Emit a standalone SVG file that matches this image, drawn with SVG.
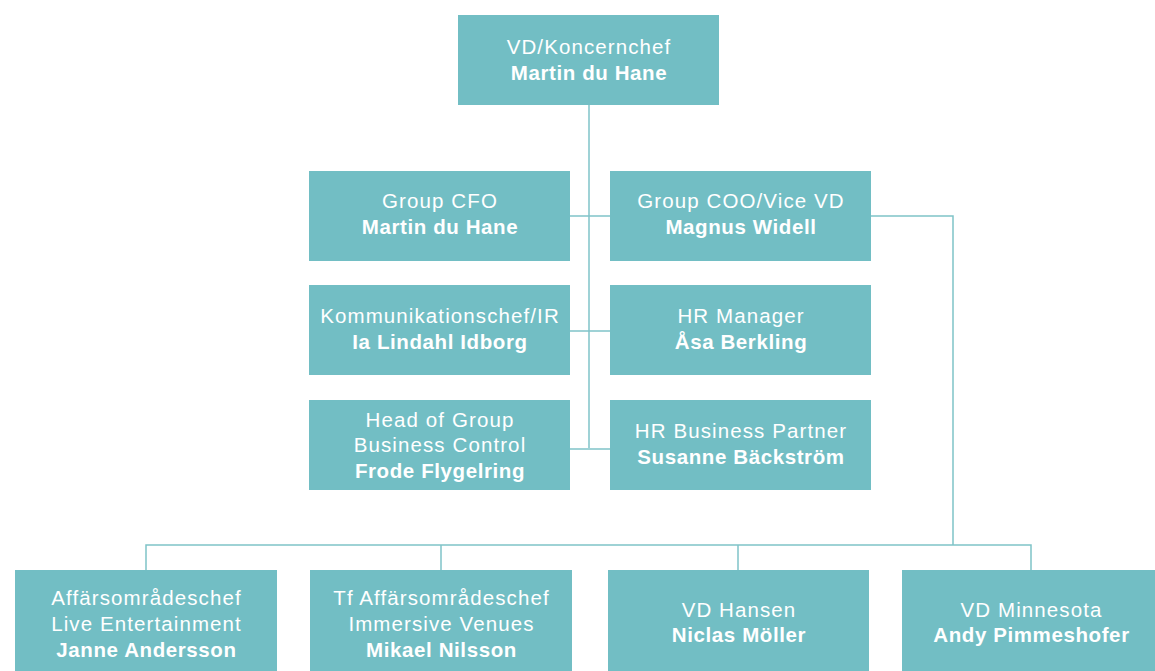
<svg xmlns="http://www.w3.org/2000/svg" width="1155" height="671" viewBox="0 0 1155 671">
<style>
.box{fill:#72bec4}
.t{font-family:"Liberation Sans",Arial,sans-serif;font-size:20.5px;fill:#ffffff;text-anchor:middle;letter-spacing:1.1px}
.b{font-weight:bold;letter-spacing:0.6px}
.c{stroke:#7fc3c8;stroke-width:1.5;fill:none}
</style>
<rect width="1155" height="671" fill="#ffffff"/>
<g id="connectors">
<path class="c" d="M589 105V448"/>
<path class="c" d="M570 216H610"/>
<path class="c" d="M570 331H610"/>
<path class="c" d="M570 449H610"/>
<path class="c" d="M871 216H953V545"/>
<path class="c" d="M146 570V545H1031V570"/>
<path class="c" d="M441 545V570"/>
<path class="c" d="M738 545V570"/>
</g>
<g id="ceo"><rect class="box" x="458" y="15" width="261" height="90"/>
<text class="t" x="589" y="54">VD/Koncernchef</text><text class="t b" x="589" y="80">Martin du Hane</text></g>
<g id="cfo"><rect class="box" x="309" y="171" width="261" height="90"/>
<text class="t" x="440" y="208">Group CFO</text><text class="t b" x="440" y="234">Martin du Hane</text></g>
<g id="coo"><rect class="box" x="610" y="171" width="261" height="90"/>
<text class="t" x="741" y="208">Group COO/Vice VD</text><text class="t b" x="741" y="234">Magnus Widell</text></g>
<g id="komm"><rect class="box" x="309" y="285" width="261" height="90"/>
<text class="t" x="440" y="323">Kommunikationschef/IR</text><text class="t b" x="440" y="349">Ia Lindahl Idborg</text></g>
<g id="hr"><rect class="box" x="610" y="285" width="261" height="90"/>
<text class="t" x="741" y="323">HR Manager</text><text class="t b" x="741" y="349">Åsa Berkling</text></g>
<g id="bc"><rect class="box" x="309" y="400" width="261" height="90"/>
<text class="t" x="440" y="427">Head of Group</text><text class="t" x="440" y="452">Business Control</text><text class="t b" x="440" y="478">Frode Flygelring</text></g>
<g id="hrbp"><rect class="box" x="610" y="400" width="261" height="90"/>
<text class="t" x="741" y="438">HR Business Partner</text><text class="t b" x="741" y="464">Susanne Bäckström</text></g>
<g id="live"><rect class="box" x="15" y="570" width="262" height="101"/>
<text class="t" x="146.5" y="605">Affärsområdeschef</text><text class="t" x="146.5" y="631">Live Entertainment</text><text class="t b" x="146.5" y="657">Janne Andersson</text></g>
<g id="imm"><rect class="box" x="310" y="570" width="262" height="101"/>
<text class="t" x="441.5" y="605">Tf Affärsområdeschef</text><text class="t" x="441.5" y="631">Immersive Venues</text><text class="t b" x="441.5" y="657">Mikael Nilsson</text></g>
<g id="hansen"><rect class="box" x="608" y="570" width="261" height="101"/>
<text class="t" x="739" y="617">VD Hansen</text><text class="t b" x="739" y="642">Niclas Möller</text></g>
<g id="minn"><rect class="box" x="902" y="570" width="253" height="101"/>
<text class="t" x="1031.5" y="617">VD Minnesota</text><text class="t b" x="1031.5" y="642">Andy Pimmeshofer</text></g>
</svg>
